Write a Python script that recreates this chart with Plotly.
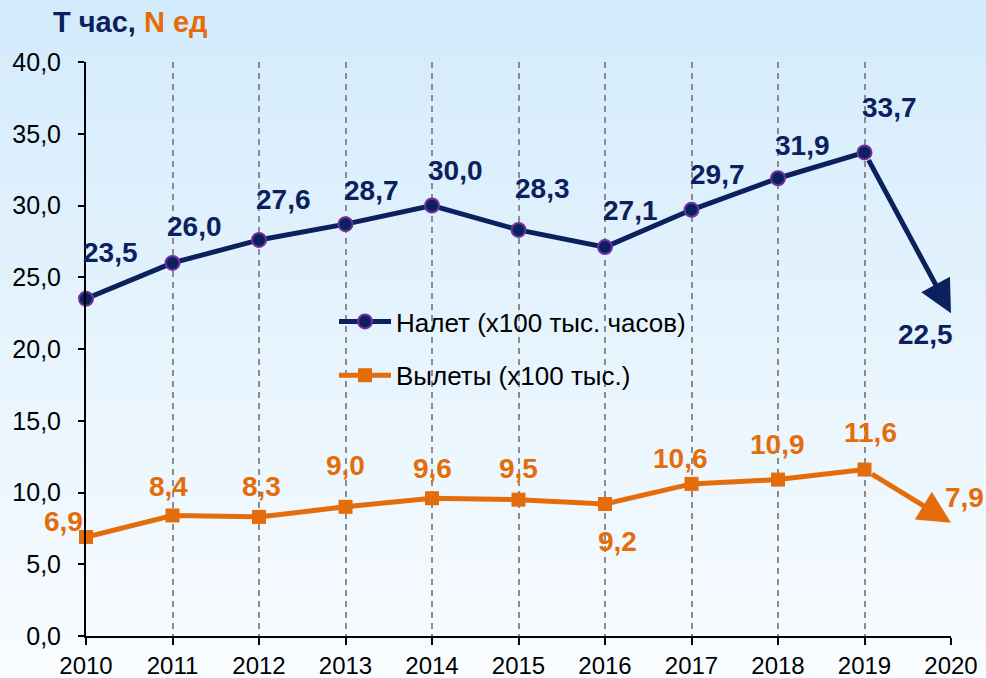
import plotly.graph_objects as go

# ---- data ----
years = [2010, 2011, 2012, 2013, 2014, 2015, 2016, 2017, 2018, 2019, 2020]
nalet = [23.5, 26.0, 27.6, 28.7, 30.0, 28.3, 27.1, 29.7, 31.9, 33.7, 22.5]
vylety = [6.9, 8.4, 8.3, 9.0, 9.6, 9.5, 9.2, 10.6, 10.9, 11.6, 7.9]
name_nalet = "Налет (х100 тыс. часов)"
name_vylety = "Вылеты (х100 тыс.)"
y_ticks = [0, 5, 10, 15, 20, 25, 30, 35, 40]

# ---- styles ----
NAVY = "#0b215e"
PURPLE = "#7030a0"
ORANGE = "#e46c0a"
GRID = "#8c8c8c"
FONT = "Liberation Sans, Arial, sans-serif"

# label pixel offsets (dx, dy) relative to each point
nalet_off = [(24, -46), (22, -36), (24, -40), (26, -34), (23, -35), (24, -41),
             (25, -37), (26, -35), (24, -33), (25, -45), (-26, 21)]
vylety_off = [(-23, -15), (-4, -29), (2, -30), (0, -41), (0, -30), (0, -31),
              (12, 38), (-11, -25), (-1, -35), (6, -37), (13, -25)]

fig = go.Figure()

fig.add_trace(go.Scatter(
    x=years[:-1], y=nalet[:-1], name=name_nalet, mode="lines+markers",
    line=dict(color=NAVY, width=5),
    marker=dict(symbol="circle", size=14, color=NAVY, line=dict(color=PURPLE, width=2)),
    cliponaxis=False, legendgroup="a",
))
fig.add_trace(go.Scatter(
    x=years[:-1], y=vylety[:-1], name=name_vylety, mode="lines+markers",
    line=dict(color=ORANGE, width=5),
    marker=dict(symbol="square", size=14, color=ORANGE),
    cliponaxis=False, legendgroup="b",
))

def fmt(v):
    return f"{v:.1f}".replace(".", ",")

annotations = []
for series, color, offs in ((nalet, NAVY, nalet_off), (vylety, ORANGE, vylety_off)):
    # arrow for the last segment
    annotations.append(dict(
        x=years[-1], y=series[-1], ax=years[-2], ay=series[-2],
        xref="x", yref="y", axref="x", ayref="y", text="",
        showarrow=True, arrowhead=2, arrowsize=1.3, arrowwidth=5,
        arrowcolor=color, startstandoff=7, standoff=0,
    ))
    for xv, yv, (dx, dy) in zip(years, series, offs):
        annotations.append(dict(
            x=xv, y=yv, xref="x", yref="y", text=f"<b>{fmt(yv)}</b>",
            showarrow=False, xanchor="center", yanchor="middle",
            xshift=dx, yshift=-dy,
            font=dict(family=FONT, size=28, color=color),
        ))

annotations.append(dict(
    xref="paper", yref="paper", x=-35 / 865, y=1 + 40 / 574,
    xanchor="left", yanchor="middle", showarrow=False,
    text=(f"<b><span style='color:{NAVY}'>T час, </span>"
          f"<span style='color:{ORANGE}'>N ед</span></b>"),
    font=dict(family=FONT, size=29),
))

# background gradient bands
shapes = []
n = 80
top_c = (211, 235, 252)
bot_c = (249, 252, 255)
y_top = 1 + 62 / 574
y_bot = -42 / 574
for i in range(n):
    t = i / (n - 1)
    c = tuple(round(top_c[k] + (bot_c[k] - top_c[k]) * t) for k in range(3))
    y1 = y_top - (y_top - y_bot) * i / n
    y0 = y_top - (y_top - y_bot) * (i + 1) / n - 0.002
    shapes.append(dict(
        type="rect", xref="paper", yref="paper", x0=-90 / 865, x1=1 + 40 / 865,
        y0=y0, y1=y1, fillcolor=f"rgb{c}", line=dict(width=0), layer="below",
    ))

fig.update_layout(
    width=986, height=678,
    margin=dict(l=86, r=35, t=62, b=42),
    paper_bgcolor="#f7fbff", plot_bgcolor="rgba(0,0,0,0)",
    separators=", ",
    font=dict(family=FONT, size=24, color="#000000"),
    showlegend=True,
    legend=dict(
        x=(334 - 86) / 865, y=(636 - 298) / 574, xanchor="left", yanchor="top",
        bgcolor="rgba(0,0,0,0)", font=dict(family=FONT, size=26, color="#000000"),
        traceorder="grouped", tracegroupgap=17, itemwidth=52,
    ),
    annotations=annotations,
    shapes=shapes,
    xaxis=dict(
        range=[years[0], years[-1]], tickmode="array", tickvals=years,
        ticktext=[str(y) for y in years],
        showgrid=True, gridcolor=GRID, gridwidth=2, griddash="6px,5px",
        showline=True, linecolor="#000000", linewidth=2,
        ticks="outside", ticklen=7, tickwidth=2, tickcolor="#000000",
        zeroline=False, ticklabelstandoff=0, automargin=False,
        tickfont=dict(family=FONT, size=24, color="#000000"),
    ),
    yaxis=dict(
        range=[0, 40], tickmode="array", tickvals=y_ticks,
        ticktext=[fmt(v) for v in y_ticks],
        showgrid=False, showline=True, linecolor="#000000", linewidth=2,
        ticks="outside", ticklen=6, tickwidth=2, tickcolor="#000000",
        zeroline=False, ticklabelstandoff=12, automargin=False,
        tickfont=dict(family=FONT, size=25, color="#000000"),
    ),
)

fig.write_html("out.html", config={"displayModeBar": False},
               post_script="document.body.style.margin='0px';")
